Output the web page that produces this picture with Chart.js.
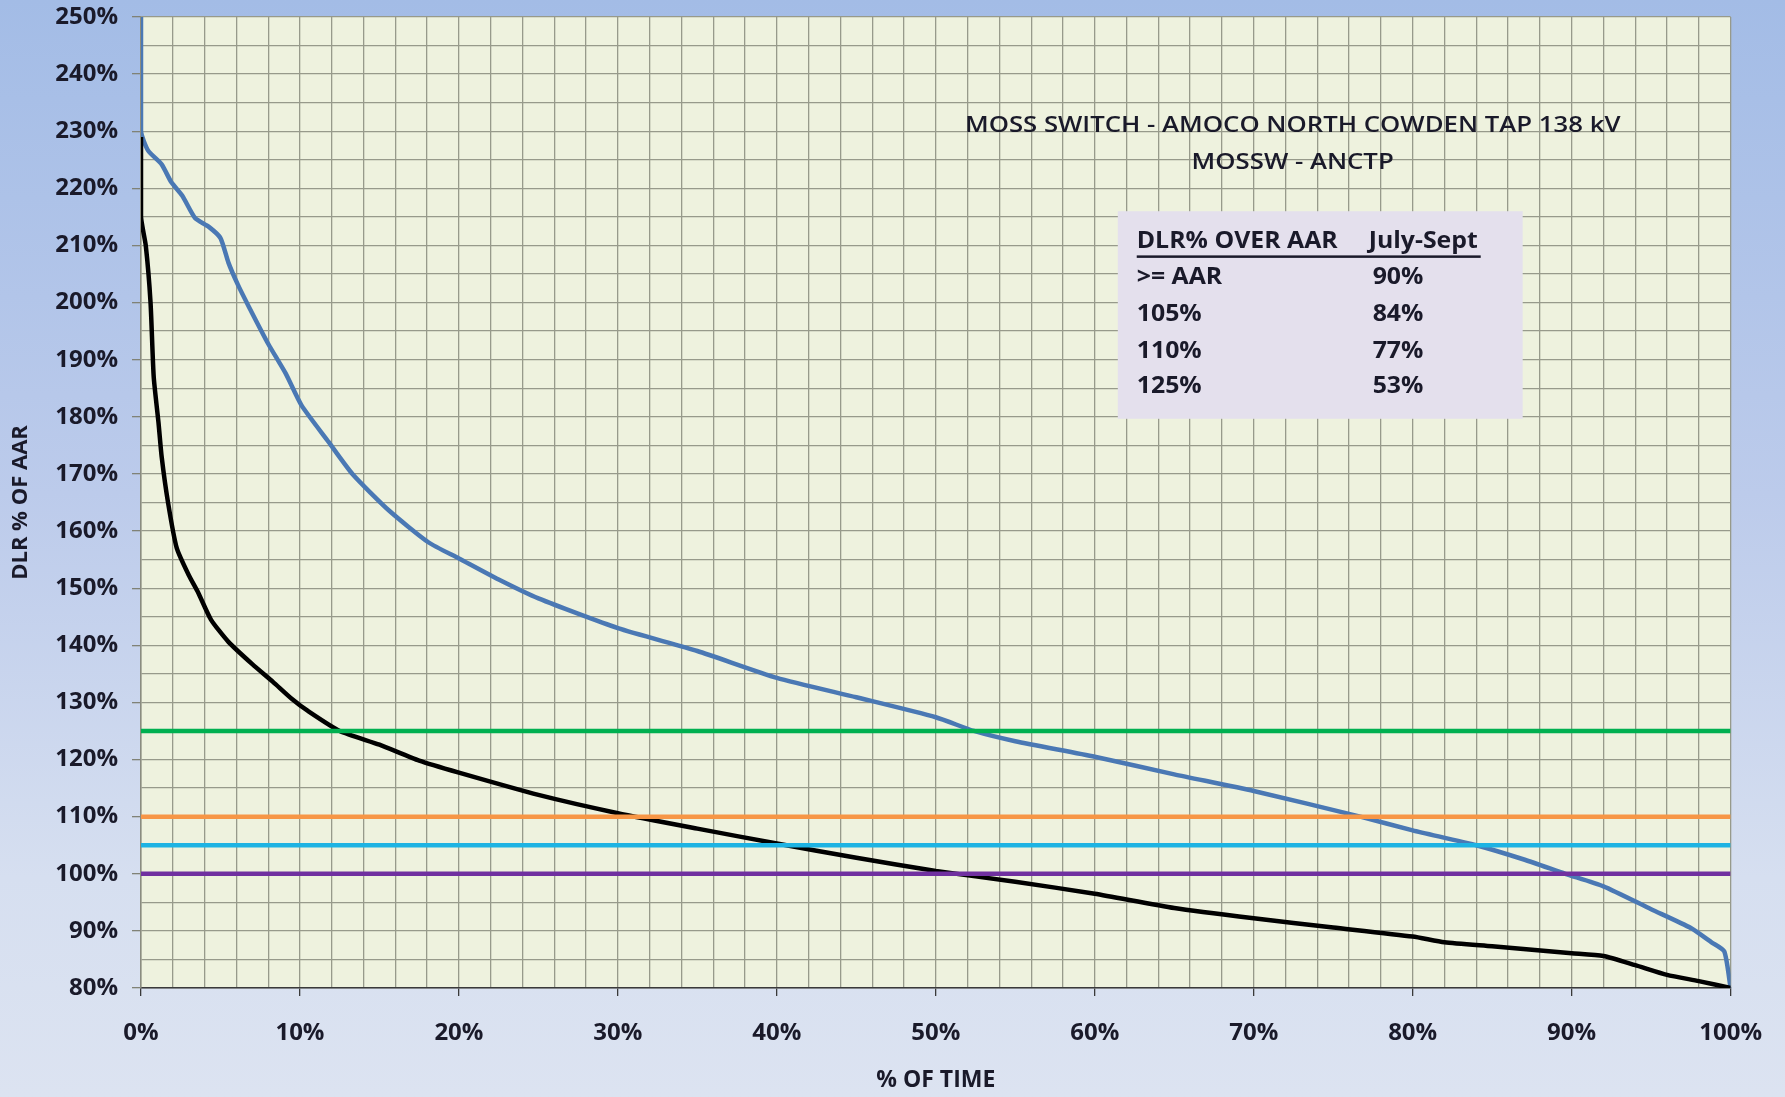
<!DOCTYPE html>
<html>
<head>
<meta charset="utf-8">
<script src="https://cdn.jsdelivr.net/npm/chart.js@4.4.0/dist/chart.umd.min.js"></script>
<style>
  html, body { margin: 0; padding: 0; }
  body {
    width: 1785px; height: 1097px; overflow: hidden;
    background: linear-gradient(to bottom, #a3bce6 0%, #bccbeb 45%, #d6dff0 80%, #dce3f1 100%);
  }
  canvas { display: block; }
</style>
</head>
<body>
<canvas id="chart" width="1785" height="1097"></canvas>
<script>
// duration curve, July-Sept (x = % of time, y = DLR % of AAR)
const blueX = [0, 0, 0.45, 1.3, 1.9, 2.6, 3.4, 4.25, 5.0, 5.5, 6.1, 6.8, 8.0, 9.1, 10.1, 11.8, 13.3, 15.6, 18.1, 20, 22.5, 25, 30, 35, 40, 45, 50, 52.4, 55, 60, 65, 70, 76.7, 80, 84, 87, 89.6, 92, 95, 97.5, 98.8, 99.6, 100];
const blueY = [250, 230, 226.6, 224.2, 221.1, 218.7, 214.8, 213.3, 211.3, 207, 203.1, 199.2, 192.8, 187.6, 182, 175.6, 170, 163.6, 158, 155.2, 151.5, 148.2, 143, 139, 134.3, 130.9, 127.4, 125, 123.2, 120.5, 117.4, 114.5, 110, 107.6, 105, 102.5, 100, 97.8, 93.8, 90.5, 88, 86.4, 80];

const blackX = [0, 0, 0.3, 0.6, 0.8, 1.1, 1.3, 1.7, 2.25, 3.0, 3.6, 4.4, 5.5, 7.0, 8.3, 9.5, 10.5, 12.5, 15, 17.5, 20, 25, 30, 35, 40, 45, 50, 55, 60, 65, 70, 75, 80, 82, 85, 90, 92, 94, 96, 98, 100];
const blackY = [229, 215, 210, 200, 187, 179, 173, 165, 157, 152.3, 149.2, 144.5, 140.6, 136.7, 133.6, 130.6, 128.5, 125, 122.6, 119.8, 117.7, 113.8, 110.6, 107.9, 105.3, 102.8, 100.5, 98.6, 96.5, 94, 92.2, 90.6, 89, 88, 87.3, 86.1, 85.6, 84, 82.3, 81.2, 80];

// horizontal limit lines
const limitLevels = [125, 110, 105, 100];
const limitColors = ['#00b050', '#f79646', '#1db3e3', '#7030a0'];

// text box
const titleLines = ['MOSS SWITCH - AMOCO NORTH COWDEN TAP 138 kV', 'MOSSW - ANCTP'];
const tableHeader = ['DLR% OVER AAR', 'July-Sept'];
const tableRows = ['>= AAR', '105%', '110%', '125%'];
const tableValues = ['90%', '84%', '77%', '53%'];

const textColor = '#1a1a2a';
const gridColor = '#979a8b';

function toPoints(xs, ys) {
  return xs.map((x, i) => ({ x: x, y: ys[i] }));
}

const limitSets = limitLevels.map((lvl, i) => ({
  label: lvl + '%',
  data: [{ x: 0, y: lvl }, { x: 100, y: lvl }],
  borderColor: limitColors[i],
  borderWidth: 4.5,
  pointRadius: 0,
}));

const plotBg = {
  id: 'plotBg',
  beforeDraw(chart) {
    const { ctx, chartArea: a } = chart;
    ctx.save();
    ctx.fillStyle = '#eef2de';
    ctx.fillRect(a.left, a.top, a.right - a.left, a.bottom - a.top);
    ctx.restore();
  },
  afterDraw(chart) {
    const { ctx, chartArea: a } = chart;
    const w = a.right - a.left, h = a.bottom - a.top;
    const px = (f) => a.left + f * w;
    const py = (f) => a.top + f * h;
    ctx.save();
    ctx.fillStyle = textColor;
    ctx.textBaseline = 'middle';
    ctx.textAlign = 'center';
    ctx.font = '600 22px "Open Sans"';
    ctx.save();
    ctx.translate(px(0.7245), 0);
    ctx.scale(1.17, 1);
    ctx.fillText(titleLines[0], 0, py(0.1115));
    ctx.fillText(titleLines[1], 0, py(0.1505));
    ctx.restore();

    // table box
    const bx = px(0.6145), by = py(0.2);
    ctx.fillStyle = '#e4e0ed';
    ctx.fillRect(bx, by, px(0.8692) - bx, py(0.4138) - by);
    ctx.fillStyle = textColor;
    ctx.textAlign = 'left';
    ctx.font = 'bold 23px "Open Sans"';
    const c1 = px(0.6264), c2 = px(0.7723);
    const rowY = [0.231, 0.268, 0.306, 0.344, 0.380];
    const put = (t, x, y) => {
      ctx.save();
      ctx.translate(x, y);
      ctx.scale(1.08, 1);
      ctx.fillText(t, 0, 0);
      ctx.restore();
    };
    put(tableHeader[0], c1, py(rowY[0]));
    put(tableHeader[1], c2, py(rowY[0]));
    ctx.fillRect(c1, py(0.2455), px(0.8428) - c1, 2.5);
    tableRows.forEach((r, i) => {
      put(r, c1, py(rowY[i + 1]));
      put(tableValues[i], c2 + 4, py(rowY[i + 1]));
    });
    ctx.restore();
  }
};

new Chart(document.getElementById('chart'), {
  type: 'line',
  data: {
    datasets: [
      ...limitSets,
      {
        label: 'Min',
        data: toPoints(blackX, blackY),
        borderColor: '#000000',
        borderWidth: 4.5,
        pointRadius: 0,
        tension: 0.2,
      },
      {
        label: 'Max',
        data: toPoints(blueX, blueY),
        borderColor: '#4a78b4',
        borderWidth: 4.5,
        pointRadius: 0,
        tension: 0.2,
      },
    ],
  },
  options: {
    responsive: false,
    devicePixelRatio: 1,
    animation: false,
    layout: { padding: { top: 17, right: 54, left: 0, bottom: 0 } },
    plugins: { legend: { display: false }, tooltip: { enabled: false } },
    scales: {
      x: {
        type: 'linear',
        min: 0,
        max: 100,
        afterFit(scale) { scale.height = 109; },
        border: { color: '#3a3a3a', width: 1.5 },
        grid: {
          color: gridColor,
          lineWidth: 1.3,
          tickLength: 8,
          tickColor: (c) => (c.tick && c.tick.value % 10 === 0 ? '#3a3a3a' : 'rgba(0,0,0,0)'),
        },
        ticks: {
          stepSize: 2,
          autoSkip: false,
          maxRotation: 0,
          padding: 23,
          color: textColor,
          font: { family: '"Open Sans"', size: 24, weight: 'bold' },
          callback: (v) => (v % 10 === 0 ? v + '%' : ''),
        },
        title: {
          display: true,
          text: '% OF TIME',
          color: textColor,
          font: { family: '"Open Sans"', size: 23, weight: 'bold' },
          padding: { top: 0, bottom: 3 },
        },
      },
      y: {
        type: 'linear',
        min: 80,
        max: 250,
        afterFit(scale) {
          scale.width = 141;
          scale.paddingTop = 0;
          scale.paddingBottom = 0;
        },
        border: { color: '#8a8c80', width: 1.5 },
        grid: {
          color: gridColor,
          lineWidth: 1.3,
          tickLength: 9,
          tickColor: (c) => (c.tick && c.tick.value % 10 === 0 ? '#808276' : 'rgba(0,0,0,0)'),
        },
        ticks: {
          stepSize: 5,
          autoSkip: false,
          padding: 14,
          color: textColor,
          font: { family: '"Open Sans"', size: 24, weight: 'bold' },
          callback: (v) => (v % 10 === 0 ? v + '%' : ''),
        },
        title: {
          display: true,
          text: 'DLR % OF AAR',
          color: textColor,
          font: { family: '"Open Sans"', size: 22, weight: 'bold' },
          padding: { top: 8, bottom: 0 },
        },
      },
    },
  },
  plugins: [plotBg],
});
</script>
</body>
</html>
